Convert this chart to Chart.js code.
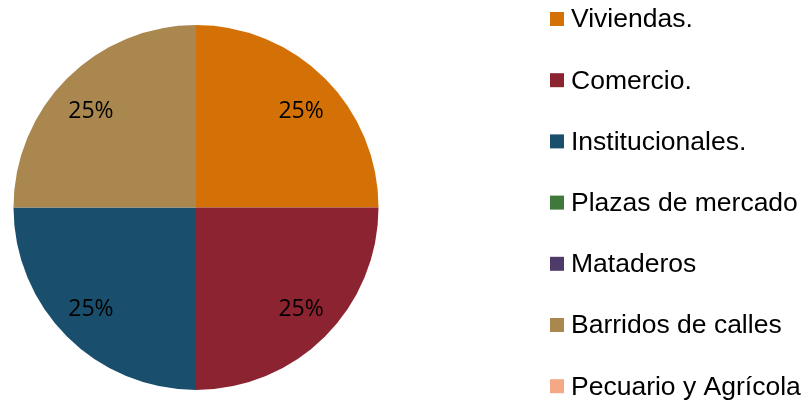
<!DOCTYPE html>
<html>
<head>
<meta charset="utf-8">
<script src="https://cdn.jsdelivr.net/npm/chart.js@4"></script>
<style>
  html, body { margin: 0; padding: 0; background: #fff; }
  #wrap { width: 804px; height: 402px; position: relative; }
</style>
</head>
<body>
<div id="wrap"><canvas id="pieChart"></canvas></div>
<script>
// datos del gráfico
const categorias = ['Viviendas.', 'Comercio.', 'Institucionales.', 'Plazas de mercado', 'Mataderos', 'Barridos de calles', 'Pecuario y Agrícola'];
const valores = [25, 25, 25, 0, 0, 25, 0];
const colores = ['#D47106', '#8B2331', '#194E6C', '#3F7A3A', '#4F3B69', '#AB8750', '#F4A886'];

// etiquetas de porcentaje dentro de cada sector
const etiquetasPlugin = {
    id: 'etiquetas',
    afterDatasetsDraw(chart) {
        const ctx = chart.ctx;
        const meta = chart.getDatasetMeta(0);
        const total = valores.reduce((a, b) => a + b, 0);
        ctx.save();
        ctx.font = '23px "Open Sans"';
        ctx.fillStyle = '#000';
        ctx.textAlign = 'center';
        ctx.textBaseline = 'middle';
        meta.data.forEach((arc, i) => {
            if (!valores[i]) return;
            const p = arc.getProps(['x', 'y', 'startAngle', 'endAngle', 'outerRadius'], true);
            const ang = (p.startAngle + p.endAngle) / 2;
            const pct = Math.round(valores[i] / total * 100) + '%';
            const lx = p.x + Math.cos(ang) * p.outerRadius * 0.814;
            const ly = p.y + Math.sin(ang) * p.outerRadius * 0.766 + 3;
            ctx.fillText(pct, lx, ly);
        });
        ctx.restore();
    }
};

// leyenda a la derecha
const leyendaPlugin = {
    id: 'leyenda',
    afterDraw(chart) {
        const ctx = chart.ctx;
        const colors = chart.data.datasets[0].backgroundColor;
        ctx.save();
        ctx.font = '26.5px "Liberation Sans", Arial';
        ctx.textBaseline = 'middle';
        chart.data.labels.forEach((lab, i) => {
            const y = 19 + i * 61.2;
            ctx.fillStyle = colors[i];
            ctx.fillRect(550, y - 7, 14, 14);
            ctx.fillStyle = '#000';
            ctx.fillText(lab, 571, y + 1);
        });
        ctx.restore();
    }
};

new Chart(document.getElementById('pieChart').getContext('2d'), {
    type: 'pie',
    data: {
        labels: categorias,
        datasets: [{
            data: valores,
            backgroundColor: colores,
            borderWidth: 0
        }]
    },
    options: {
        responsive: true,
        maintainAspectRatio: false,
        animation: false,
        layout: { padding: { left: 13, right: 425, top: 25, bottom: 12 } },
        plugins: {
            legend: { display: false },
            tooltip: { enabled: false }
        }
    },
    plugins: [etiquetasPlugin, leyendaPlugin]
});
</script>
</body>
</html>
